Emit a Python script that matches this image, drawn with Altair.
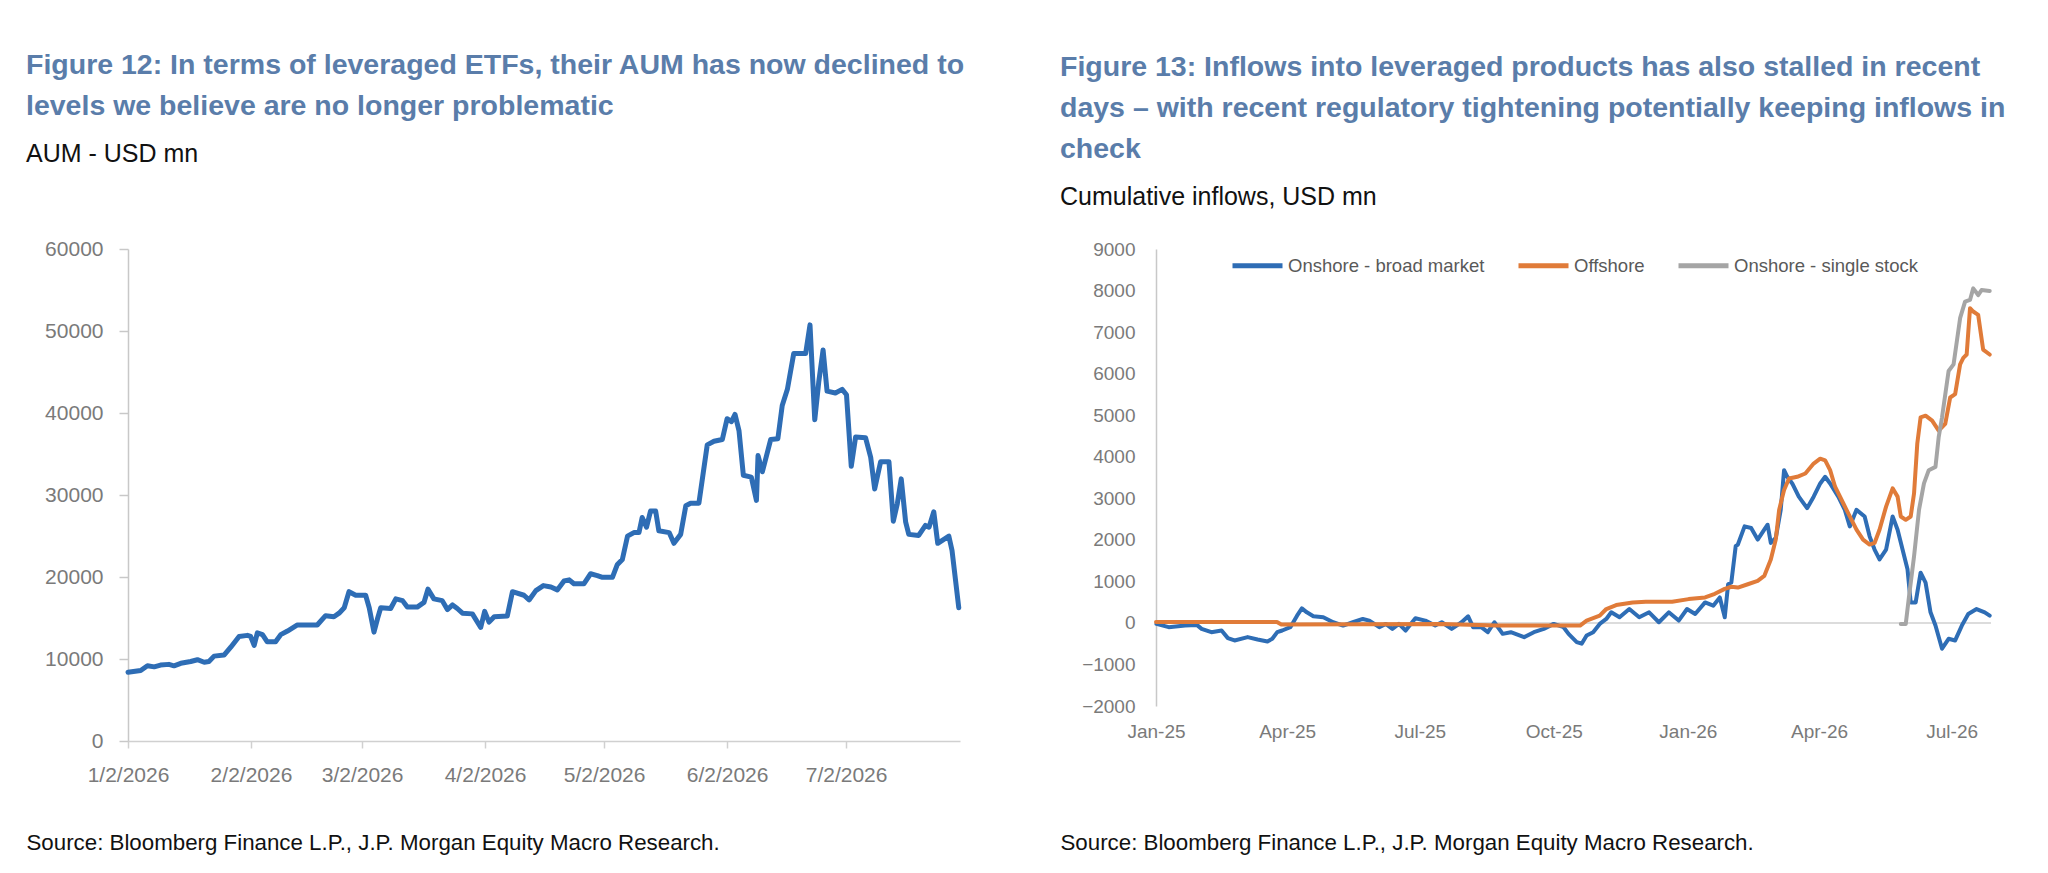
import altair as alt
import pandas as pd

# ---------------- Figure 12: AUM of leveraged ETFs (USD mn) ----------------
# x = days since 2026-01-02
aum_day = [0, 3.2, 4.9, 6.6, 8.2, 10.3, 11.6, 13.3, 15.8, 17.5,
           19.2, 20.4, 21.7, 24.2, 25.9, 28.0, 30.1, 30.9, 31.8, 32.6,
           33.9, 35.1, 37.2, 38.5, 40.2, 42.7, 47.7, 49.8, 51.9, 53.2,
           54.5, 55.7, 57.4, 59.9, 60.8, 62.0, 62.9, 63.7, 66.2, 67.5,
           69.2, 70.4, 72.9, 74.6, 75.6, 77.1, 79.2, 80.5, 81.8, 83.0,
           84.3, 86.8, 88.9, 89.9, 91.0, 92.3, 95.6, 96.9, 99.8, 101.1,
           102.8, 104.7, 106.6,
           108.2, 109.9, 111.2, 112.4, 114.9, 116.6, 118.3, 119.6, 122.1, 123.3,
           124.6, 125.9, 127.5, 128.8, 129.6, 130.7, 131.7, 133.0, 133.8, 136.4,
           137.6, 139.3, 140.6, 141.8, 143.9, 146.0, 147.7, 149.8, 151.0, 152.1,
           153.0, 154.0, 155.1, 157.1, 158.4, 158.8, 159.9, 162.0, 163.8, 164.9,
           166.2, 167.8, 170.8, 171.9, 173.1, 174.1, 175.2, 176.2, 178.3, 180.0,
           181.1, 182.3, 183.4, 185.9, 187.2, 188.2, 189.7, 191.8, 192.9, 193.9,
           194.9, 196.0, 196.8, 199.3, 201.0, 201.9, 203.1, 204.1, 206.9, 207.7,
           209.4]
aum_val = [8385, 8603, 9171, 9040, 9258, 9345, 9171, 9476, 9695, 9913,
           9607, 9695, 10350, 10481, 11442, 12752, 12883, 12752, 11660, 13188,
           12970, 12097, 12097, 12970, 13407, 14149, 14149, 15285, 15153, 15590,
           16245, 18210, 17774, 17774, 16245, 13276, 14935, 16245, 16158, 17337,
           17119, 16333, 16333, 16900, 18516, 17337, 17119, 16027, 16595, 16158,
           15590, 15503, 13843, 15809, 14498, 15153, 15241, 18210, 17774, 17206,
           18341, 18953, 18778,
           18429, 19520, 19652, 19171, 19171, 20394, 20176, 19957, 19957, 21486,
           22141, 24979, 25416, 25416, 27250, 26071, 28036, 28036, 25634, 25416,
           24106, 25198, 28691, 28997, 28997, 36115, 36552, 36770, 39303, 38954,
           39827, 37862, 32403, 32185, 29346, 34805, 32840, 36770, 36857, 40919,
           42884, 47251, 47251, 50745, 39172, 43757, 47688, 42666, 42447, 42884,
           42229, 33495, 37076, 36988, 34587, 30744, 34063, 34063, 26813, 28910,
           31966, 26726, 25198, 25067, 26289, 26071, 27949, 24106, 24979, 23232,
           16245]
aum_ticks_y = [0, 10000, 20000, 30000, 40000, 50000, 60000]
aum_ticks_x = ["2026-01-02", "2026-02-02", "2026-03-02", "2026-04-02",
               "2026-05-02", "2026-06-02", "2026-07-02"]

# ---------------- Figure 13: cumulative inflows (USD mn) ----------------
# x = days since 2025-01-01
broad_day = [0.3, 8.7, 20, 28, 31.3, 38, 45, 49.3, 53.9, 62.9,
             69.7, 76.5, 79.8, 83.2, 86.6, 92.2, 96.8, 100.1, 103.5, 108,
             114.8, 121.6, 128.4, 135.1, 141.9, 146.4, 153.2, 157.7, 162.2, 166.7,
             171.3, 178, 184.8, 191.6,
             196.1, 202.9, 209.7, 214.2, 217.6, 223.2, 227.7, 232.2, 237.9, 243.5,
             252.6, 259.3, 266.1, 272.9, 279.7, 283.1, 288.7, 292.1, 295.5, 300.0,
             304.5, 309.0, 312.4, 318.1, 324.8, 331.6, 338.4, 345.1, 351.9, 358.7,
             364.4, 370.0, 376.8, 382.4, 386.9,
             390.3, 392.6, 394.8, 397.8,
             399.3, 403.9, 408.4, 412.9, 417.4, 419.7, 421.9, 425.3, 428.7, 431.0,
             433.2, 436.6, 441.1, 446.8, 451.3, 455.8, 459.2, 462.6, 468.2, 472.7,
             476.1, 480.7, 486.3, 489.7, 493.1, 496.5, 501.0, 505.5, 508.9, 512.3,
             515.7, 517.9, 521.3, 524.7, 528.1, 531.5, 534.9, 539.4, 543.9, 548.4,
             553.0, 557.4, 563.1, 568.7, 572.1]
broad_val = [-24, -103, -64, -48, -143, -223, -183, -366, -422, -342,
             -398, -446, -382, -223, -183, -103, 175, 350, 255, 159,
             135, 16, -64, 16, 95, 56, -103, -24, -143, -24,
             -183, 111, 56, -64,
             16, -143, 16, 159, -103, -103, -223, 16, -263, -223,
             -342, -223, -143, -24, -103, -263, -461, -501, -302, -223,
             -24, 95, 255, 135, 334, 135, 255, 16, 255, 56,
             334, 215, 493, 414, 613,
             135, 931, 971, 1846,
             1886, 2323, 2283, 2005, 2244, 2363, 1925, 2045, 2721, 3676,
             3517, 3357, 3039, 2761, 3039, 3357, 3517, 3357, 3039, 2721,
             2323, 2721, 2562, 2084, 1766, 1528, 1766, 2562, 2244, 1766,
             1289, 493, 493, 1209, 971, 255, -64, -621, -382, -422,
             -64, 215, 334, 255, 175]

off_day = [0, 83, 86, 196, 234, 291, 295.5, 304.5, 309, 315.8,
           327.1, 336.1, 354.2, 365.5, 376.8, 383.5, 390.3, 394.8, 399.3, 406.1,
           412.9, 417.4, 421.9, 425.3, 427.6, 431.0, 434.4, 440.0, 445.6, 451.3,
           455.8, 459.2, 462.6, 466.0, 471.6, 476.1, 480.7, 485.2, 489.7, 493.1,
           496.5, 501.0, 505.5, 508.9, 511.1, 514.5, 517.9, 520.2, 522.4, 524.7,
           528.1, 532.6, 537.1, 541.6, 545.0, 548.4, 551.8, 554.0, 556.3, 558.6,
           560.8, 564.2, 567.6, 572.1]
off_val = [20, 20, -40, -24, -64, -64, 56, 175, 334, 430,
           493, 509, 509, 573, 613, 700, 820, 870, 851, 931,
           1010, 1130, 1528, 2005, 2721, 3198, 3477, 3517, 3596, 3835,
           3954, 3914, 3676, 3278, 2880, 2562, 2244, 2005, 1886, 1925,
           2244, 2800, 3238, 3039, 2562, 2482, 2562, 3119, 4312, 4949,
           4988, 4869, 4630, 4789, 5426, 5505, 6222, 6381, 6460, 7574,
           7495, 7415, 6580, 6460]

single_day = [511.1, 514.5, 516.8, 520.2, 523.6, 527.0, 530.3, 534.9, 537.1, 539.4,
              543.9, 547.3, 551.8, 555.2, 558.6, 560.8, 564.2, 566.5, 572.1]
single_val = [-24, -24, 652, 1607, 2721, 3357, 3676, 3755, 4471, 4949,
              6063, 6222, 7335, 7733, 7773, 8052, 7892, 8012, 7988]

series_names = ["Onshore - broad market", "Offshore", "Onshore - single stock"]
flow_ticks_y = [-2000, -1000, 0, 1000, 2000, 3000, 4000, 5000, 6000, 7000, 8000, 9000]
flow_ticks_x = ["2025-01-01", "2025-04-01", "2025-07-01", "2025-10-01",
                "2026-01-01", "2026-04-01", "2026-07-01"]
zero_line = [0]

# ---------------- texts ----------------
title12 = ["Figure 12: In terms of leveraged ETFs, their AUM has now declined to",
           "levels we believe are no longer problematic"]
sub12 = "AUM - USD mn"
title13 = ["Figure 13: Inflows into leveraged products has also stalled in recent",
           "days \u2013 with recent regulatory tightening potentially keeping inflows in",
           "check"]
sub13 = "Cumulative inflows, USD mn"
source = "Source: Bloomberg Finance L.P., J.P. Morgan Equity Macro Research."

# ---------------- styles ----------------
FONT = "Liberation Sans, Arial, sans-serif"
TITLE_BLUE = "#5A7DAA"
BLUE = "#2E6DB5"
ORANGE = "#E07B39"
GREY = "#A5A5A5"
LABEL = "#7A7A7A"


def dt(s):
    t = pd.Timestamp(s)
    return alt.DateTime(year=t.year, month=t.month, date=t.day, hours=t.hour)


# ---------------- left chart ----------------
left_df = pd.DataFrame({
    "date": pd.Timestamp("2026-01-02") + pd.to_timedelta(aum_day, unit="D"),
    "aum": aum_val,
})

left = alt.Chart(left_df).mark_line(
    color=BLUE, strokeWidth=5, strokeJoin="round", strokeCap="round"
).encode(
    x=alt.X("date:T",
            scale=alt.Scale(domain=[dt("2026-01-02"), dt("2026-07-30 17:00")]),
            axis=alt.Axis(values=[dt(s) for s in aum_ticks_x], format="%-m/%-d/%Y",
                          labelFontSize=21, labelColor=LABEL, labelFont=FONT,
                          labelFlush=False, labelOverlap=False,
                          domainColor="#D0D0D0", domainWidth=1.5,
                          tickColor="#D0D0D0", tickSize=7, tickWidth=1.5,
                          labelPadding=16, grid=False,
                          title=source, titleFont=FONT, titleFontSize=22.3,
                          titleFontWeight="normal", titleColor="#111111",
                          titleAlign="left", titleAnchor="start",
                          titleBaseline="alphabetic",
                          titleX=-102, titleY=108)),
    y=alt.Y("aum:Q",
            scale=alt.Scale(domain=[0, 60000], nice=False),
            axis=alt.Axis(values=aum_ticks_y, format="d", title=None,
                          labelFontSize=21, labelColor=LABEL, labelFont=FONT,
                          domainColor="#C8C8C8", domainWidth=1.5,
                          tickColor="#C8C8C8", tickSize=9, tickWidth=1.5,
                          labelPadding=16, grid=False)),
).properties(
    width=832, height=492,
    title=alt.TitleParams(text=title12, subtitle=[sub12], anchor="start",
                          frame="group", dx=-102,
                          font=FONT, fontSize=28.5, fontWeight="bold",
                          color=TITLE_BLUE, lineHeight=41,
                          subtitleFont=FONT, subtitleFontSize=25,
                          subtitleColor="#111111", subtitlePadding=22,
                          offset=71),
)

# ---------------- right chart ----------------
frames = []
for name, days, vals in [(series_names[0], broad_day, broad_val),
                         (series_names[1], off_day, off_val),
                         (series_names[2], single_day, single_val)]:
    frames.append(pd.DataFrame({
        "date": pd.Timestamp("2025-01-01") + pd.to_timedelta(days, unit="D"),
        "flow": vals,
        "series": name,
    }))
right_df = pd.concat(frames, ignore_index=True)

x_right = alt.X("date:T",
                scale=alt.Scale(domain=[dt("2025-01-01"), dt("2026-07-28")]),
                axis=alt.Axis(values=[dt(s) for s in flow_ticks_x], format="%b-%y",
                              labelFontSize=19, labelColor=LABEL, labelFont=FONT,
                              labelFlush=False, labelOverlap=False,
                              domain=False, ticks=False, tickSize=0,
                              labelPadding=16, grid=False,
                              title=source, titleFont=FONT, titleFontSize=22.3,
                              titleFontWeight="normal", titleColor="#111111",
                              titleAlign="left", titleAnchor="start",
                              titleBaseline="alphabetic",
                              titleX=-96, titleY=143))
y_right = alt.Y("flow:Q",
                scale=alt.Scale(domain=[-2000, 9000], nice=False),
                axis=alt.Axis(values=flow_ticks_y, format="d", title=None,
                              labelFontSize=19, labelColor=LABEL, labelFont=FONT,
                              domainColor="#C8C8C8", domainWidth=1.5,
                              ticks=False, tickSize=0,
                              labelPadding=21, grid=False))

zero_rule = alt.Chart(pd.DataFrame({"flow": zero_line})).mark_rule(
    color="#D0D0D0", strokeWidth=1.5
).encode(y=alt.Y("flow:Q"))

lines = alt.Chart(right_df).mark_line(
    strokeWidth=4, strokeJoin="round", strokeCap="round"
).encode(
    x=x_right,
    y=y_right,
    color=alt.Color("series:N",
                    scale=alt.Scale(domain=series_names, range=[BLUE, ORANGE, GREY]),
                    sort=series_names,
                    legend=alt.Legend(orient="none", legendX=1102, legendY=-11,
                                      direction="horizontal", title=None,
                                      symbolType="stroke", symbolSize=2500,
                                      symbolStrokeWidth=5, labelFont=FONT,
                                      labelFontSize=18.5, labelColor="#595959",
                                      labelLimit=400,
                                      columnPadding=23, labelOffset=3)),
)

right = alt.layer(zero_rule, lines).properties(
    width=835, height=457,
    title=alt.TitleParams(text=title13, subtitle=[sub13], anchor="start",
                          frame="group", dx=-96,
                          font=FONT, fontSize=28.5, fontWeight="bold",
                          color=TITLE_BLUE, lineHeight=41,
                          subtitleFont=FONT, subtitleFontSize=25,
                          subtitleColor="#111111", subtitlePadding=22,
                          offset=30),
)

chart = alt.hconcat(left, right, spacing=94).configure_view(
    stroke=None
).properties(
    padding={"left": 18, "top": 42, "right": 10, "bottom": 5},
    background="white",
)

chart.save("out.html", embed_options={"renderer": "svg", "actions": False})
